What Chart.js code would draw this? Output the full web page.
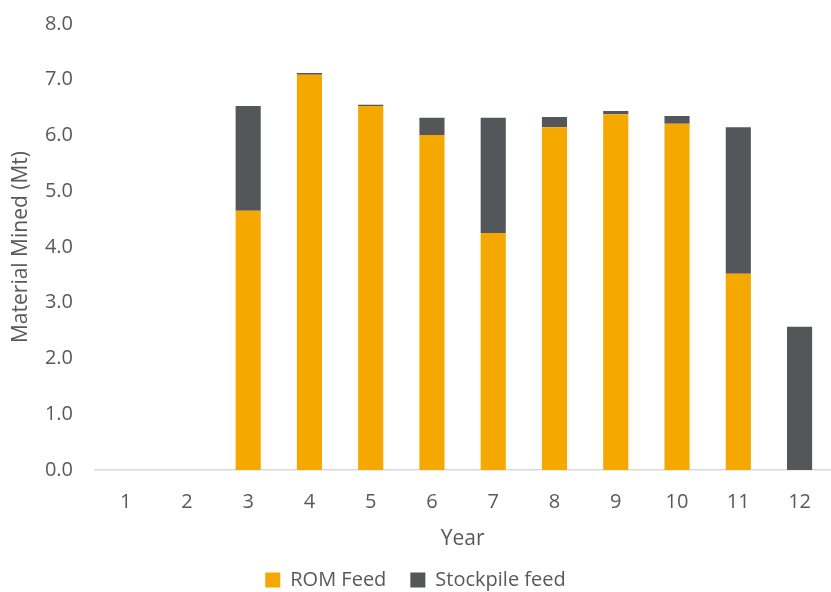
<!DOCTYPE html>
<html>
<head>
<meta charset="utf-8">
<title>Material Mined</title>
<script src="https://cdn.jsdelivr.net/npm/chart.js@4"></script>
<style>
  html, body { margin: 0; padding: 0; background: #fff; }
  #chart-wrap { width: 831px; height: 592px; position: relative; }
</style>
</head>
<body>
<div id="chart-wrap">
  <canvas id="my-chart"></canvas>
</div>
<script>
const years = ['1', '2', '3', '4', '5', '6', '7', '8', '9', '10', '11', '12'];
const romFeed = [0, 0, 4.65, 7.09, 6.53, 6.01, 4.25, 6.15, 6.38, 6.21, 3.52, 0];
const stockpileFeed = [0, 0, 1.88, 0.03, 0.02, 0.31, 2.07, 0.18, 0.06, 0.14, 2.63, 2.57];

const textColor = '#595959';
const fontFamily = "'Open Sans', 'DejaVu Sans', sans-serif";

const ctx = document.getElementById('my-chart').getContext('2d');

const myChart = new Chart(ctx, {
  type: 'bar',
  data: {
    labels: years,
    datasets: [
      {
        label: 'ROM Feed',
        data: romFeed,
        backgroundColor: '#F5A800',
        barPercentage: 1,
        categoryPercentage: 0.41,
      },
      {
        label: 'Stockpile feed',
        data: stockpileFeed,
        backgroundColor: '#55565A',
        barPercentage: 1,
        categoryPercentage: 0.41,
      },
    ],
  },
  options: {
    responsive: true,
    maintainAspectRatio: false,
    animation: false,
    layout: {
      padding: { top: 24, right: 0, bottom: 0, left: 0 },
    },
    plugins: {
      tooltip: { enabled: false },
      legend: {
        position: 'bottom',
        // wide item spacing but a short legend row
        maxHeight: 46,
        labels: {
          color: textColor,
          font: { family: fontFamily, size: 20 },
          boxWidth: 15,
          boxHeight: 15,
          padding: 24,
        },
      },
    },
    scales: {
      x: {
        stacked: true,
        grid: { display: false, drawTicks: false },
        border: { display: true, color: '#D9D9D9', width: 1.5 },
        ticks: {
          color: textColor,
          font: { family: fontFamily, size: 20 },
          padding: 20,
          maxRotation: 0,
        },
        title: {
          display: true,
          text: 'Year',
          color: textColor,
          font: { family: fontFamily, size: 21, lineHeight: 1.0 },
          padding: { top: -5, bottom: -4 },
        },
      },
      y: {
        stacked: true,
        min: 0,
        max: 8,
        grid: { display: false, drawTicks: false },
        border: { display: false },
        ticks: {
          stepSize: 1,
          color: textColor,
          font: { family: fontFamily, size: 20 },
          padding: 22,
          callback: (v) => v.toFixed(1),
        },
        title: {
          display: true,
          text: 'Material Mined (Mt)',
          color: textColor,
          font: { family: fontFamily, size: 21 },
          padding: { top: 8, bottom: 0 },
        },
        afterFit: (scale) => {
          // fixed axis width, and let the end labels overhang the plot area
          scale.width = 95;
          scale.paddingTop = 0;
          scale.paddingBottom = 0;
        },
      },
    },
  },
});
</script>
</body>
</html>
